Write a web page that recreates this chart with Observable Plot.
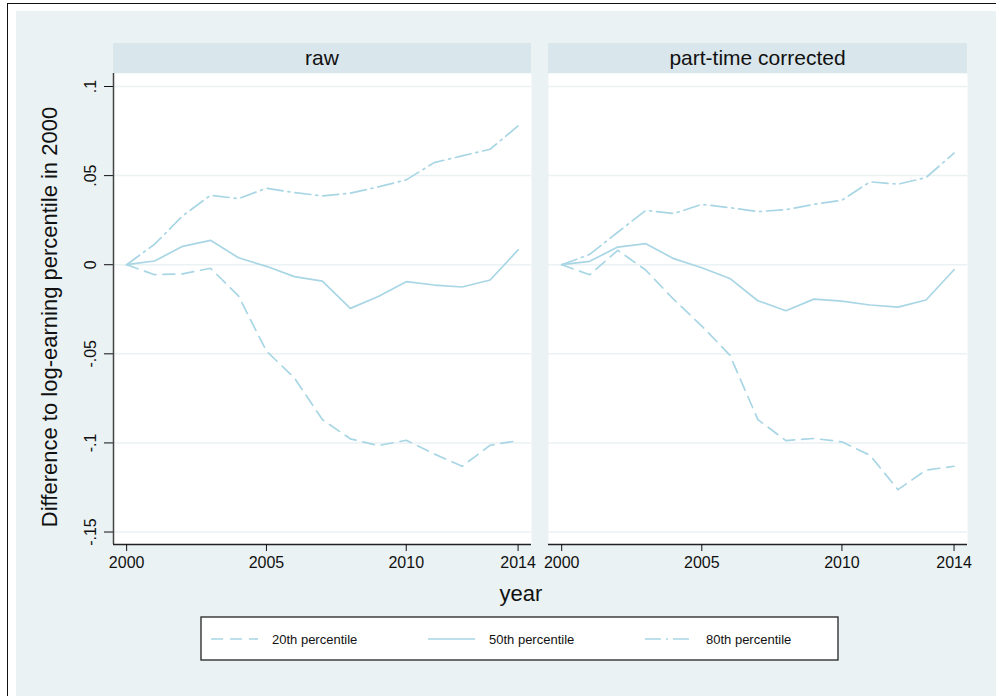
<!DOCTYPE html>
<html>
<head>
<meta charset="utf-8">
<script src="https://cdn.jsdelivr.net/npm/d3@7"></script>
<script src="https://cdn.jsdelivr.net/npm/@observablehq/plot@0.6"></script>
<style>
  html, body { margin: 0; padding: 0; background: #ffffff; }
  #root { position: relative; width: 996px; height: 696px; overflow: hidden; font-family: "Liberation Sans", Arial, sans-serif; }
  .abs { position: absolute; }
  .hdr { position: absolute; top: 43px; height: 30px; background: #d9e6eb; color: #111; font-size: 21px; line-height: 30px; text-align: center; }
</style>
</head>
<body>
<div id="root">
  <div class="abs" style="left:7px; top:3px; width:1000px; height:700px; border-left:1.3px solid #111; border-top:1.3px solid #111;"></div>
  <div class="abs" style="left:16px; top:11px; right:0; bottom:0; background:#eaf2f3;"></div>
  <div class="hdr" id="h1" style="left:113px; width:418px;"></div>
  <div class="hdr" id="h2" style="left:548px; width:419px;"></div>
  <div class="abs" id="p1" style="left:0px; top:73px;"></div>
  <div class="abs" id="p2" style="left:540px; top:73px;"></div>
</div>
<script>
// ---- data ----
const years = [2000, 2001, 2002, 2003, 2004, 2005, 2006, 2007, 2008, 2009, 2010, 2011, 2012, 2013, 2014];
const panelTitles = ["raw", "part-time corrected"];
const seriesNames = ["20th percentile", "50th percentile", "80th percentile"];

const rawP20 = [0, -0.0056, -0.0051, -0.0020, -0.0175, -0.0485, -0.0635, -0.0869, -0.0977, -0.1015, -0.0985, -0.1062, -0.1131, -0.1013, -0.0987];
const rawP50 = [0, 0.0021, 0.0103, 0.0137, 0.0039, -0.0009, -0.0067, -0.0092, -0.0245, -0.0178, -0.0095, -0.0114, -0.0125, -0.0086, 0.0083];
const rawP80 = [0, 0.0115, 0.0274, 0.0390, 0.0371, 0.0429, 0.0405, 0.0386, 0.0401, 0.0437, 0.0476, 0.0573, 0.0611, 0.0648, 0.0779];

const ptP20 = [0, -0.0056, 0.0081, -0.0030, -0.0195, -0.0344, -0.0507, -0.0869, -0.0987, -0.0975, -0.0994, -0.1069, -0.1262, -0.1153, -0.1131];
const ptP50 = [0, 0.0019, 0.0099, 0.0118, 0.0034, -0.0017, -0.0077, -0.0202, -0.0258, -0.0193, -0.0204, -0.0226, -0.0238, -0.0198, -0.0028];
const ptP80 = [0, 0.0058, 0.0182, 0.0305, 0.0287, 0.0339, 0.0320, 0.0298, 0.0309, 0.0339, 0.0362, 0.0465, 0.0452, 0.0489, 0.0626];

const xTicks = [2000, 2005, 2010, 2014];
const yTicks = [0.1, 0.05, 0, -0.05, -0.1, -0.15];
const yTickLabels = [".1", ".05", "0", "-.05", "-.1", "-.15"];
const yTitle = "Difference to log-earning percentile in 2000";
const xTitle = "year";

// ---- styling ----
const lineColor = "#a9d6e5";
const gridColor = "#eaf2f3";
const dashes = ["12,7", null, "16,5,2,5"];
const xDomain = [1999.53, 2014.48];
const yDomain = [-0.157, 0.1073];
const font = '"Liberation Sans", Arial, sans-serif';

function rows(vals) { return years.map((y, i) => ({year: y, value: vals[i]})); }

function panel(series, showY, width, ml, mr) {
  const marks = [
    Plot.frame({fill: "white"}),
    Plot.gridY(yTicks, {stroke: gridColor, strokeOpacity: 1, strokeWidth: 1.5})
  ];
  if (showY) {
    marks.push(Plot.axisY(yTicks, {tickSize: 9, tickPadding: 9, tickRotate: -90, fontSize: 16, label: null,
      tickFormat: d => yTickLabels[yTicks.indexOf(d)]}));
    marks.push(Plot.ruleX([xDomain[0]], {stroke: "#444", strokeWidth: 1.5}));
  }
  marks.push(Plot.ruleY([yDomain[0]], {stroke: "#222", strokeWidth: 1.5}));
  marks.push(Plot.axisX(xTicks, {tickSize: 7, tickPadding: 5, fontSize: 16, label: null, tickFormat: d => String(d)}));
  series.forEach((vals, i) => {
    const opts = {x: "year", y: "value", stroke: lineColor, strokeWidth: 1.7, strokeLinejoin: "round"};
    if (dashes[i]) opts.strokeDasharray = dashes[i];
    marks.push(Plot.line(rows(vals), opts));
  });
  return Plot.plot({
    width, height: 507,
    marginLeft: ml, marginRight: mr, marginTop: 0, marginBottom: 36,
    x: {domain: xDomain, axis: null, label: null},
    y: {domain: yDomain, axis: null, label: null},
    style: {background: "transparent", fontFamily: font, fontSize: "16px", color: "#111", overflow: "visible"},
    marks
  });
}

document.getElementById("h1").textContent = panelTitles[0];
document.getElementById("h2").textContent = panelTitles[1];
document.getElementById("p1").appendChild(panel([rawP20, rawP50, rawP80], true, 540, 113, 9));
document.getElementById("p2").appendChild(panel([ptP20, ptP50, ptP80], false, 456, 8, 29));

// ---- overlay: axis titles and legend ----
const svg = d3.select("#root").append("svg")
  .attr("width", 996).attr("height", 696)
  .style("position", "absolute").style("left", "0px").style("top", "0px")
  .style("pointer-events", "none")
  .style("font-family", font);

svg.append("text")
  .attr("transform", "translate(57,317) rotate(-90)")
  .attr("text-anchor", "middle").attr("font-size", 22).attr("fill", "#111")
  .text(yTitle);

svg.append("text")
  .attr("x", 521).attr("y", 601)
  .attr("text-anchor", "middle").attr("font-size", 22).attr("fill", "#111")
  .text(xTitle);

const lg = svg.append("g").attr("transform", "translate(201,617)");
lg.append("rect").attr("width", 637).attr("height", 43)
  .attr("fill", "white").attr("stroke", "#222").attr("stroke-width", 1.3);
seriesNames.forEach((name, i) => {
  const x0 = 10 + 217 * i;
  const ln = lg.append("line").attr("x1", x0).attr("x2", x0 + 47).attr("y1", 22).attr("y2", 22)
    .attr("stroke", lineColor).attr("stroke-width", 1.7);
  if (dashes[i]) ln.attr("stroke-dasharray", dashes[i]);
  lg.append("text").attr("x", x0 + 61).attr("y", 26.5)
    .attr("font-size", 13).attr("fill", "#111").text(name);
});
</script>
</body>
</html>
